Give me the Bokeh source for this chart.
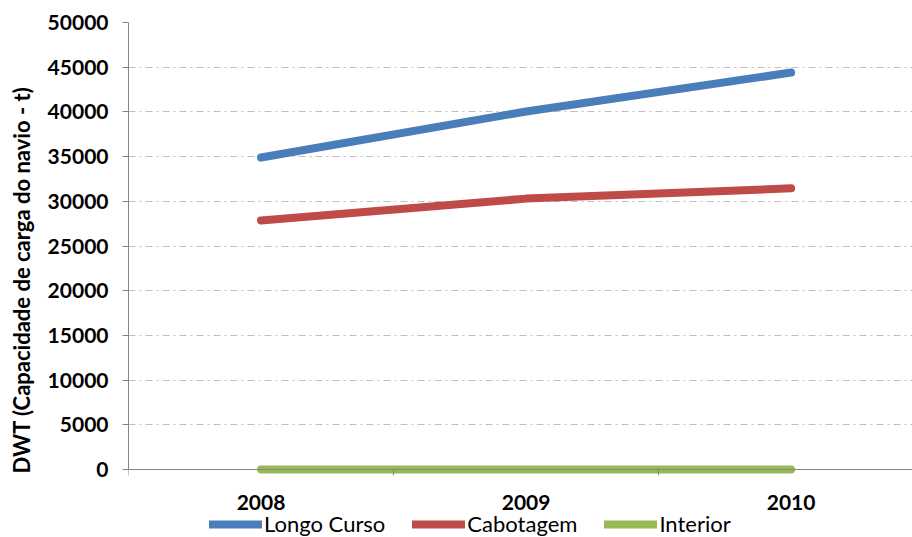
from bokeh.embed import file_html
from bokeh.resources import INLINE
from bokeh.plotting import figure
from bokeh.models import Range1d, FixedTicker, Legend, LegendItem

# Years on the category axis and DWT per navigation type
years = ["2008", "2009", "2010"]
longo_curso = [34900, 40050, 44400]
cabotagem = [27850, 30300, 31450]
interior = [0, 0, 0]
y_ticks = list(range(0, 50001, 5000))

series = [
    ("Longo Curso", longo_curso, "#4A7EBB"),
    ("Cabotagem", cabotagem, "#BE4B48"),
    ("Interior", interior, "#98B954"),
]

FONT = "Lato"
AXIS_GRAY = "#868686"

# each year occupies one unit band; the line points sit at the band centres
xs = [i + 0.5 for i in range(len(years))]

# the frame runs down to the bottom edge so the legend can sit under the axis;
# the value axis starts below zero to leave room for the year labels
p = figure(
    width=912, height=537,
    output_backend="svg", toolbar_location=None,
    x_range=Range1d(0, 2.958), y_range=Range1d(-7606, 50000),
    min_border_left=128, min_border_right=0,
    min_border_top=22, min_border_bottom=0,
)
p.outline_line_color = None
p.background_fill_color = "white"
p.border_fill_color = "white"

# x axis pinned at DWT = 0: labels at band centres, tick marks at band edges
p.xaxis.fixed_location = 0
p.xaxis.ticker = FixedTicker(ticks=xs, minor_ticks=list(range(len(years) + 1)))
p.xaxis.major_label_overrides = {x: y for x, y in zip(xs, years)}
p.xaxis.major_tick_out = 0
p.xaxis.major_tick_in = 0
p.xaxis.minor_tick_out = 6
p.xaxis.minor_tick_in = 0
p.xaxis.minor_tick_line_color = AXIS_GRAY
p.xaxis.axis_line_color = AXIS_GRAY
p.xaxis.major_label_standoff = 19
p.xaxis.major_label_text_font = FONT
p.xaxis.major_label_text_font_style = "bold"
p.xaxis.major_label_text_font_size = "21px"
p.xaxis.major_label_text_color = "black"

# y axis
p.yaxis.bounds = (0, 50000)
p.yaxis.ticker = FixedTicker(ticks=y_ticks)
p.yaxis.minor_tick_line_color = None
p.yaxis.major_tick_out = 6
p.yaxis.major_tick_in = 0
p.yaxis.major_tick_line_color = AXIS_GRAY
p.yaxis.axis_line_color = AXIS_GRAY
p.yaxis.major_label_standoff = 14
p.yaxis.major_label_text_font = FONT
p.yaxis.major_label_text_font_style = "bold"
p.yaxis.major_label_text_font_size = "21px"
p.yaxis.major_label_text_color = "black"
p.yaxis.axis_label = "DWT (Capacidade de carga do navio - t)"
p.yaxis.axis_label_standoff = 10
p.yaxis.axis_label_text_font = FONT
p.yaxis.axis_label_text_font_style = "bold"
p.yaxis.axis_label_text_font_size = "22px"
p.yaxis.axis_label_text_color = "black"

p.xgrid.grid_line_color = None
p.ygrid.bounds = (0, 50000)
p.ygrid.grid_line_color = "#BFBFBF"
p.ygrid.grid_line_dash = "7 4 2 4"
p.ygrid.grid_line_width = 1

renderers = []
for name, vals, color in series:
    r = p.line(xs, vals, line_width=8, line_color=color, line_cap="round",
               line_join="round")
    renderers.append((name, r))

legend = Legend(
    items=[LegendItem(label=n, renderers=[r]) for n, r in renderers],
    orientation="horizontal",
    location=(81, 0),
    glyph_width=53, glyph_height=22,
    label_standoff=2, spacing=27,
    padding=0, margin=0,
    label_text_font=FONT, label_text_font_size="22px",
    label_text_color="black", label_height=22,
    border_line_color=None, background_fill_alpha=0,
)
p.add_layout(legend, "center")

open("out.html", "w").write(file_html(p, INLINE))
